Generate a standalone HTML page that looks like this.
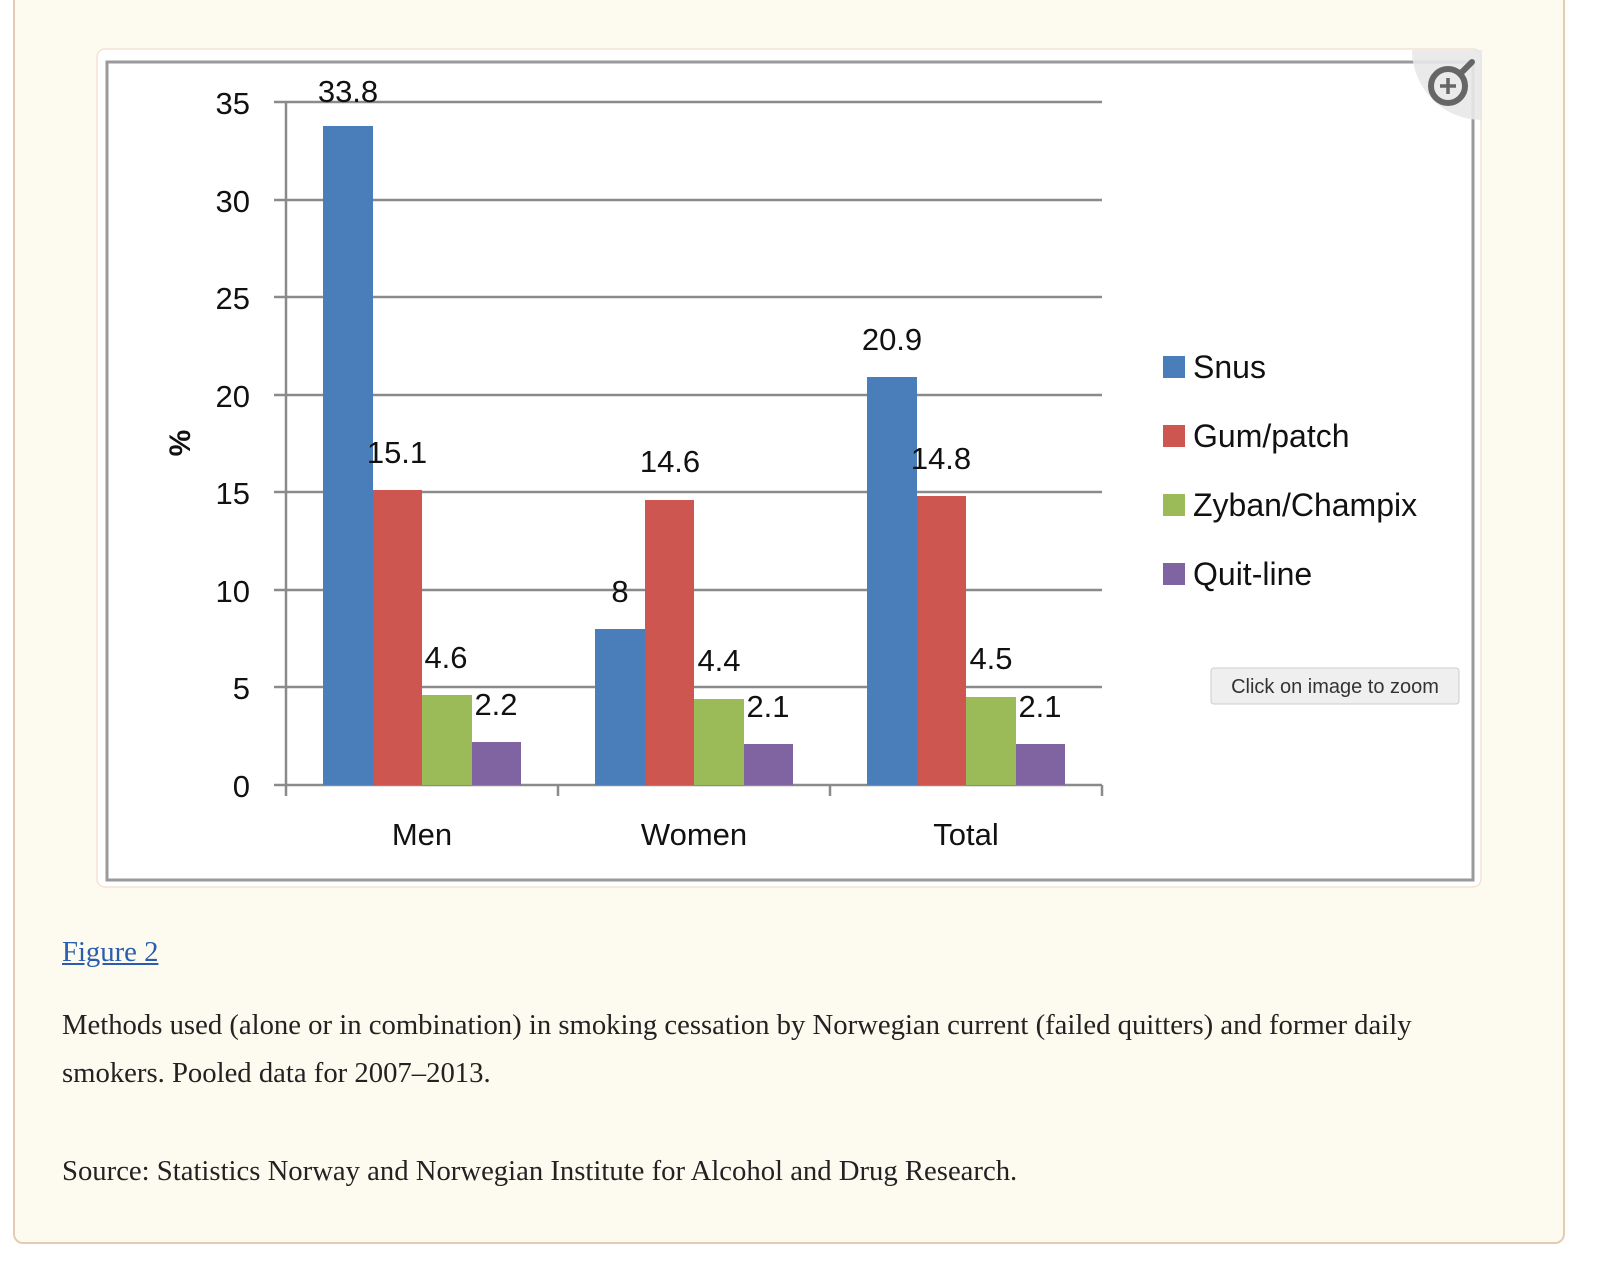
<!DOCTYPE html>
<html><head><style>
html,body{margin:0;padding:0;background:#fff;}
body{width:1600px;height:1284px;position:relative;overflow:hidden;}
.panel{position:absolute;left:13px;top:-12px;width:1552px;height:1256px;background:#fdfbef;border:2px solid #e6cbb3;border-radius:10px;box-sizing:border-box;}
.cap{position:absolute;left:62px;font-family:"Liberation Serif",serif;font-size:28.7px;color:#222;line-height:48px;}
a{color:#2a5db0;}
</style></head><body>
<div class="panel"></div>
<svg style="position:absolute;left:0;top:0" width="1600" height="900" font-family="Liberation Sans, sans-serif">
<rect x="97" y="49" width="1384" height="838" rx="8" fill="#fff" stroke="#f3e2d4" stroke-width="1.5"/>
<rect x="107" y="62" width="1366" height="818" fill="#fff" stroke="#9a9a9a" stroke-width="3"/>
<g stroke="#8a8a8a" stroke-width="2.5">
<line x1="274" y1="102" x2="1102" y2="102"/>
<line x1="274" y1="200" x2="1102" y2="200"/>
<line x1="274" y1="297" x2="1102" y2="297"/>
<line x1="274" y1="395" x2="1102" y2="395"/>
<line x1="274" y1="492" x2="1102" y2="492"/>
<line x1="274" y1="590" x2="1102" y2="590"/>
<line x1="274" y1="687" x2="1102" y2="687"/>
<line x1="274" y1="785" x2="1102" y2="785"/>
<line x1="286" y1="102" x2="286" y2="796"/>
<line x1="558" y1="785" x2="558" y2="796"/>
<line x1="830" y1="785" x2="830" y2="796"/>
<line x1="1102" y1="785" x2="1102" y2="796"/>
</g>
<g>
<rect x="323" y="126" width="50" height="659" fill="#4a7ebb"/>
<rect x="373" y="490" width="49" height="295" fill="#cd5650"/>
<rect x="422" y="695" width="50" height="90" fill="#9bbb59"/>
<rect x="472" y="742" width="49" height="43" fill="#8064a2"/>
<rect x="595" y="629" width="50" height="156" fill="#4a7ebb"/>
<rect x="645" y="500" width="49" height="285" fill="#cd5650"/>
<rect x="694" y="699" width="50" height="86" fill="#9bbb59"/>
<rect x="744" y="744" width="49" height="41" fill="#8064a2"/>
<rect x="867" y="377" width="50" height="408" fill="#4a7ebb"/>
<rect x="917" y="496" width="49" height="289" fill="#cd5650"/>
<rect x="966" y="697" width="50" height="88" fill="#9bbb59"/>
<rect x="1016" y="744" width="49" height="41" fill="#8064a2"/>
</g>
<g font-size="31" fill="#111" text-anchor="end">
<text x="250" y="114">35</text><text x="250" y="212">30</text><text x="250" y="309">25</text>
<text x="250" y="407">20</text><text x="250" y="504">15</text><text x="250" y="602">10</text>
<text x="250" y="699">5</text><text x="250" y="797">0</text>
</g>
<text transform="translate(190,443) rotate(-90)" font-size="30" font-weight="bold" text-anchor="middle" fill="#111">%</text>
<g font-size="31" fill="#111" text-anchor="middle">
<text x="348" y="102">33.8</text><text x="397" y="463">15.1</text><text x="446" y="668">4.6</text><text x="496" y="715">2.2</text>
<text x="620" y="602">8</text><text x="670" y="472">14.6</text><text x="719" y="671">4.4</text><text x="768" y="717">2.1</text>
<text x="892" y="350">20.9</text><text x="941" y="469">14.8</text><text x="991" y="669">4.5</text><text x="1040" y="717">2.1</text>
<text x="422" y="845">Men</text><text x="694" y="845">Women</text><text x="966" y="845">Total</text>
</g>
<g font-size="32" fill="#111">
<rect x="1163" y="356" width="22" height="22" fill="#4a7ebb"/><text x="1193" y="378">Snus</text>
<rect x="1163" y="425" width="22" height="22" fill="#cd5650"/><text x="1193" y="447">Gum/patch</text>
<rect x="1163" y="494" width="22" height="22" fill="#9bbb59"/><text x="1193" y="516">Zyban/Champix</text>
<rect x="1163" y="563" width="22" height="22" fill="#8064a2"/><text x="1193" y="585">Quit-line</text>
</g>
<path d="M1440,50 H1482 V120 A70,70 0 0 1 1412,50 Z" fill="#e8e8e8" opacity="0.9"/>
<circle cx="1448" cy="86" r="17" fill="none" stroke="#666" stroke-width="6"/>
<line x1="1460" y1="74" x2="1472" y2="62" stroke="#666" stroke-width="6" stroke-linecap="round"/>
<line x1="1440" y1="86" x2="1456" y2="86" stroke="#666" stroke-width="3.5"/>
<line x1="1448" y1="78" x2="1448" y2="94" stroke="#666" stroke-width="3.5"/>
<rect x="1211" y="668" width="248" height="36" rx="3" fill="#efefef" stroke="#ccc"/>
<text x="1335" y="693" font-size="20" fill="#333" text-anchor="middle">Click on image to zoom</text>
</svg>
<div class="cap" style="top:928px"><a href="#">Figure 2</a></div>
<div class="cap" style="top:1001px;width:1420px">Methods used (alone or in combination) in smoking cessation by Norwegian current (failed quitters) and former daily smokers. Pooled data for 2007–2013.</div>
<div class="cap" style="top:1147px">Source: Statistics Norway and Norwegian Institute for Alcohol and Drug Research.</div>
</body></html>
